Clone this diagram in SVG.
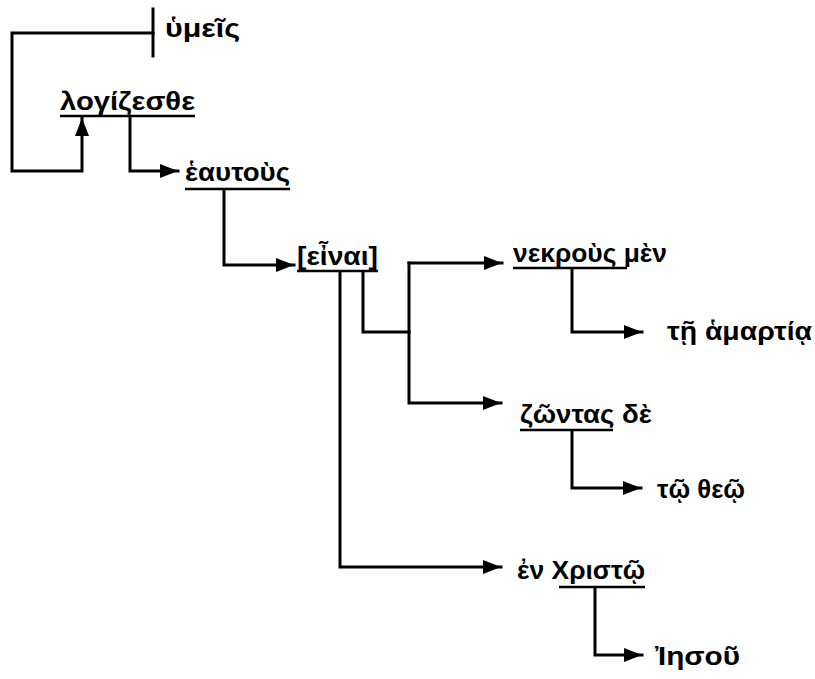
<svg xmlns="http://www.w3.org/2000/svg" width="815" height="679" viewBox="0 0 815 679">
<defs>
<marker id="ah" viewBox="0 0 18 14" refX="18" refY="7" markerWidth="18" markerHeight="14" markerUnits="userSpaceOnUse" orient="auto">
<path d="M0,0 L18,7 L0,14 Z" fill="#000"/>
</marker>
<style>
.t{font-family:"Liberation Sans","DejaVu Sans",sans-serif;font-size:25px;font-weight:bold;fill:#000}
.u{stroke:#000;stroke-width:2.5;fill:none}
.c{stroke:#000;stroke-width:3;fill:none;stroke-linejoin:miter;stroke-linecap:square}
.a{marker-end:url(#ah)}
</style>
</defs>
<rect width="815" height="679" fill="#fff"/>
<g id="connectors">
<path class="c" d="M153,9 V56"/>
<path class="c a" d="M153,33 H12 V171 H82 V118"/>
<path class="c a" d="M130,116 V171 H178"/>
<path class="c a" d="M224,190 V265 H294"/>
<path class="c a" d="M409,263 H502"/>
<path class="c a" d="M409,263 V403 H501"/>
<path class="c" d="M363,272 V332 H409"/>
<path class="c a" d="M340,272 V567 H501"/>
<path class="c a" d="M572,269 V332 H642"/>
<path class="c a" d="M572,431 V488 H641"/>
<path class="c a" d="M595,588 V655 H642"/>
</g>
<g id="n-hymeis"><text class="t" x="165" y="37" textLength="75" lengthAdjust="spacingAndGlyphs">ὑμεῖς</text></g>
<g id="n-logizesthe"><text class="t" x="60" y="110" textLength="135" lengthAdjust="spacingAndGlyphs">λογίζεσθε</text><line class="u" x1="60" y1="116" x2="195" y2="116"/></g>
<g id="n-heautous"><text class="t" x="185" y="181" textLength="105" lengthAdjust="spacingAndGlyphs">ἑαυτοὺς</text><line class="u" x1="185" y1="189" x2="290" y2="189"/></g>
<g id="n-einai"><text class="t" x="297" y="265" textLength="81" lengthAdjust="spacingAndGlyphs">[εἶναι]</text><line class="u" x1="297" y1="271" x2="378" y2="271"/></g>
<g id="n-nekrous"><text class="t" x="513" y="262" textLength="154" lengthAdjust="spacingAndGlyphs">νεκροὺς μὲν</text><line class="u" x1="513" y1="268" x2="627" y2="268"/></g>
<g id="n-hamartia"><text class="t" x="667" y="340" textLength="145" lengthAdjust="spacingAndGlyphs">τῇ ἁμαρτίᾳ</text></g>
<g id="n-zontas"><text class="t" x="520" y="423" textLength="132" lengthAdjust="spacingAndGlyphs">ζῶντας δὲ</text><line class="u" x1="520" y1="430" x2="613" y2="430"/></g>
<g id="n-theo"><text class="t" x="657" y="498" textLength="88" lengthAdjust="spacingAndGlyphs">τῷ θεῷ</text></g>
<g id="n-christo"><text class="t" x="517" y="579" textLength="128" lengthAdjust="spacingAndGlyphs">ἐν Χριστῷ</text><line class="u" x1="559" y1="587" x2="645" y2="587"/></g>
<g id="n-iesou"><text class="t" x="655" y="665" textLength="85" lengthAdjust="spacingAndGlyphs">Ἰησοῦ</text></g>
</svg>
